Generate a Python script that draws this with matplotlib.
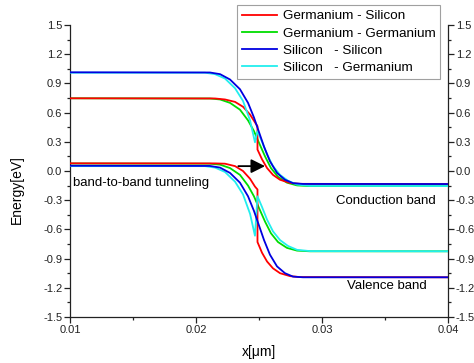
import matplotlib
matplotlib.use("Agg")
import matplotlib.pyplot as plt
from matplotlib.ticker import MultipleLocator, FormatStrFormatter, FuncFormatter

plt.rcParams['font.family'] = ['Liberation Sans', 'DejaVu Sans']
plt.rcParams['axes.unicode_minus'] = False

# ---------------- data (x in um, energy in eV) ----------------
labels = ["Germanium - Silicon", "Germanium - Germanium",
          "Silicon   - Silicon", "Silicon   - Germanium"]
colors = ["#ff0000", "#00dd00", "#0000e0", "#22eeee"]

# Germanium - Silicon
gesi_x_c = [0.010, 0.02151, 0.02230, 0.02310, 0.02373, 0.02429, 0.02468, 0.02488, 0.02488,
            0.02524, 0.02564, 0.02611, 0.02667, 0.02746, 0.02825, 0.040]
gesi_y_c = [0.747, 0.745, 0.735, 0.710, 0.660, 0.580, 0.500, 0.460, 0.220,
            0.120, 0.030, -0.040, -0.090, -0.123, -0.132, -0.134]
gesi_x_v = [0.010, 0.02151, 0.02230, 0.02310, 0.02373, 0.02429, 0.02468, 0.02488, 0.02488,
            0.02524, 0.02564, 0.02611, 0.02667, 0.02746, 0.02825, 0.040]
gesi_y_v = [0.079, 0.078, 0.075, 0.050, 0.000, -0.080, -0.160, -0.190, -0.730,
            -0.840, -0.930, -1.000, -1.050, -1.080, -1.090, -1.092]

# Germanium - Germanium
gege_x_c = [0.010, 0.02111, 0.02191, 0.02270, 0.02349, 0.02413, 0.02460, 0.02500,
            0.02548, 0.02595, 0.02651, 0.02722, 0.02802, 0.02905, 0.040]
gege_y_c = [0.747, 0.745, 0.735, 0.700, 0.630, 0.520, 0.410, 0.290,
            0.150, 0.030, -0.060, -0.120, -0.148, -0.155, -0.155]
gege_x_v = [0.010, 0.02111, 0.02191, 0.02270, 0.02349, 0.02413, 0.02460, 0.02500,
            0.02548, 0.02595, 0.02651, 0.02722, 0.02802, 0.02905, 0.040]
gege_y_v = [0.077, 0.075, 0.065, 0.030, -0.040, -0.150, -0.260, -0.380,
            -0.520, -0.640, -0.730, -0.790, -0.818, -0.825, -0.825]

# Silicon - Silicon
sisi_x_c = [0.010, 0.02111, 0.02191, 0.02270, 0.02349, 0.02413, 0.02460, 0.02500,
            0.02540, 0.02587, 0.02643, 0.02706, 0.02770, 0.02849, 0.040]
sisi_y_c = [1.014, 1.012, 0.995, 0.940, 0.840, 0.700, 0.550, 0.400,
            0.250, 0.100, -0.020, -0.090, -0.125, -0.133, -0.134]
sisi_x_v = [0.010, 0.02111, 0.02191, 0.02270, 0.02349, 0.02413, 0.02460, 0.02500,
            0.02540, 0.02587, 0.02643, 0.02706, 0.02770, 0.02849, 0.040]
sisi_y_v = [0.054, 0.052, 0.035, -0.020, -0.120, -0.260, -0.410, -0.560,
            -0.710, -0.860, -0.980, -1.050, -1.085, -1.092, -1.092]

# Silicon - Germanium
sige_x_c = [0.010, 0.02071, 0.02151, 0.02230, 0.02310, 0.02373, 0.02429, 0.02468, 0.02488,
            0.02524, 0.02564, 0.02611, 0.02667, 0.02730, 0.02802, 0.02905, 0.040]
sige_y_c = [1.010, 1.010, 0.995, 0.950, 0.850, 0.720, 0.520, 0.295, 0.410,
            0.300, 0.170, 0.050, -0.040, -0.100, -0.140, -0.153, -0.155]
sige_x_v = [0.010, 0.02071, 0.02151, 0.02230, 0.02310, 0.02373, 0.02429, 0.02468, 0.02488,
            0.02524, 0.02564, 0.02611, 0.02667, 0.02730, 0.02802, 0.02905, 0.040]
sige_y_v = [0.050, 0.050, 0.035, -0.010, -0.110, -0.240, -0.440, -0.665, -0.260,
            -0.370, -0.500, -0.620, -0.710, -0.770, -0.810, -0.823, -0.825]

arrow_y = 0.05
arrow_x0, arrow_x1 = 0.02336, 0.02548

# ---------------- figure ----------------
fig = plt.figure(figsize=(4.74, 3.63), dpi=100)
ax = fig.add_axes([70/474, 1-317/363, 378/474, 292/363])

lw = 1.3
series = [
    (gesi_x_c, gesi_y_c, gesi_x_v, gesi_y_v, 0),
    (gege_x_c, gege_y_c, gege_x_v, gege_y_v, 1),
    (sisi_x_c, sisi_y_c, sisi_x_v, sisi_y_v, 2),
    (sige_x_c, sige_y_c, sige_x_v, sige_y_v, 3),
]
zorders = {0: 3, 1: 2, 2: 5, 3: 4}
handles = {}
for xc, yc, xv, yv, i in series:
    h, = ax.plot(xc, yc, color=colors[i], lw=lw, label=labels[i], zorder=zorders[i])
    ax.plot(xv, yv, color=colors[i], lw=lw, zorder=zorders[i])
    handles[i] = h

ax.set_xlim(0.01, 0.04)
ax.set_ylim(-1.5, 1.5)
ax.xaxis.set_major_locator(MultipleLocator(0.01))
ax.xaxis.set_minor_locator(MultipleLocator(0.005))
ax.yaxis.set_major_locator(MultipleLocator(0.3))
ax.yaxis.set_minor_locator(MultipleLocator(0.15))
ax.xaxis.set_major_formatter(FormatStrFormatter('%.2f'))
ax.yaxis.set_major_formatter(FuncFormatter(lambda v, p: "0.0" if abs(v) < 1e-9 else f"{v:.1f}"))

ax.spines['top'].set_visible(False)
for s in ['left', 'right', 'bottom']:
    ax.spines[s].set_linewidth(0.9)
    ax.spines[s].set_color('#222222')

ax.tick_params(which='both', direction='out', left=True, right=True,
               labelleft=True, labelright=True, bottom=True, top=False,
               labelsize=8, colors='#222222', width=0.9)
ax.tick_params(which='major', length=4, pad=1.5)
ax.tick_params(which='minor', length=2.5)

ax.set_xlabel('x[\u03bcm]', fontsize=10)
ax.set_ylabel('Energy[eV]', fontsize=10)
ax.xaxis.set_label_coords(0.5, -0.095)
ax.yaxis.set_label_coords(-0.122, 0.435)

ax.text(0.0102, -0.12, 'band-to-band tunneling', fontsize=9.5, ha='left', va='center')
ax.text(0.03902, -0.305, 'Conduction band', fontsize=9.5, ha='right', va='center')
ax.text(0.03831, -1.18, 'Valence band', fontsize=9.5, ha='right', va='center')

ax.annotate('', xy=(arrow_x1, arrow_y), xytext=(arrow_x0, arrow_y),
            arrowprops=dict(arrowstyle='-|>,head_length=0.7,head_width=0.35',
                            color='black', lw=1.3, mutation_scale=12,
                            shrinkA=0, shrinkB=0), zorder=6)

leg = ax.legend([handles[i] for i in range(4)], labels, loc='upper right',
                bbox_to_anchor=(0.979, 1.068), borderaxespad=0, fontsize=9.7,
                frameon=True, fancybox=False, edgecolor='#888888',
                handlelength=2.6, handletextpad=0.4, labelspacing=0.36,
                borderpad=0.35)
leg.get_frame().set_linewidth(0.8)
leg.set_zorder(10)

fig.savefig('out.png', dpi=100)
